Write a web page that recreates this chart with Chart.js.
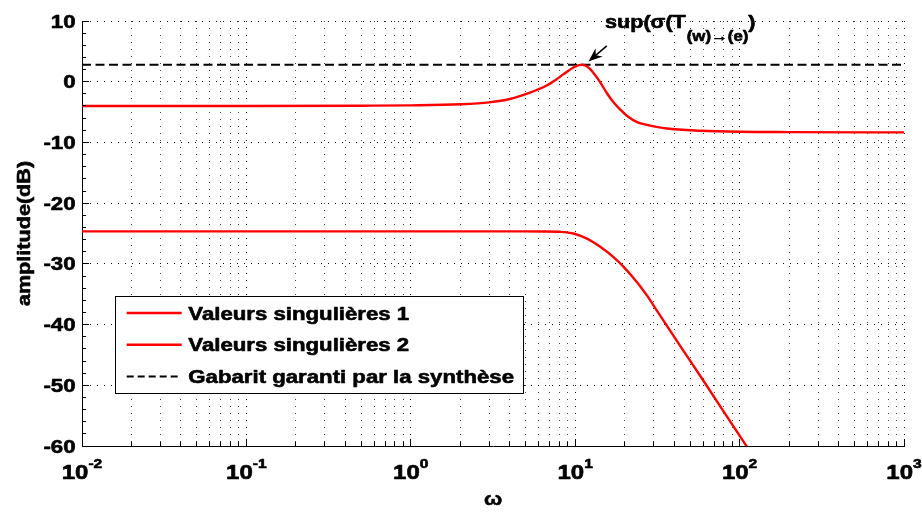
<!DOCTYPE html>
<html>
<head>
<meta charset="utf-8">
<title>Valeurs singulières</title>
<script src="https://cdn.jsdelivr.net/npm/chart.js@4.4.1/dist/chart.umd.min.js"></script>
<style>
  html, body { margin: 0; padding: 0; background: #fff; }
  #wrap { width: 922px; height: 512px; }
</style>
</head>
<body>
<div id="wrap"><canvas id="svChart" width="922" height="512"></canvas></div>
<script>
// pulsation (rad/s) and singular values (dB)
const omega1 = [0.01, 0.1, 0.5, 1, 2, 3, 4, 5.3, 6.7, 7.6, 8.5, 9.75, 10.5, 11, 11.6, 12.3, 13.2, 14.2, 15.6, 17.1, 18.8, 20.6, 24, 27.3, 36.1, 57.7, 100, 200, 1000];
const sigma1 = [-4.0, -4.0, -3.95, -3.9, -3.72, -3.4, -2.85, -1.8, -0.62, 0.3, 1.25, 2.35, 2.72, 2.8, 2.62, 2.1, 1.1, -0.1, -1.9, -3.4, -4.6, -5.6, -6.7, -7.1, -7.7, -8.07, -8.25, -8.3, -8.35];
const omega2 = [0.01, 1, 4, 6.5, 8.1, 9.75, 11.8, 14.2, 17.1, 19.7, 23.7, 27.3, 31.4, 43.5, 60.4, 111, 125];
const sigma2 = [-24.65, -24.65, -24.65, -24.66, -24.72, -25.0, -25.85, -27.2, -28.9, -30.5, -33.0, -35.2, -37.7, -43.5, -49.3, -60.15, -62.2];
const gabaritOmega = [0.01, 1000];
const gabaritDb = [2.8, 2.8];

const seriesLabels = ['Valeurs singulières 1', 'Valeurs singulières 2', 'Gabarit garanti par la synthèse'];
const xDecades = [-2, -1, 0, 1, 2, 3];
const yMajor = [10, 0, -10, -20, -30, -40, -50, -60];

const FONT = '"Liberation Sans", Arial, Helvetica, sans-serif';
const SX = 1.2; // wide helvetica look

function toPoints(xs, ys) {
  return xs.map((x, i) => ({ x: x, y: ys[i] }));
}

function isDecade(v) {
  const l = Math.log10(v);
  return Math.abs(l - Math.round(l)) < 1e-9;
}

// bold text, stretched a bit and slightly stroked so it reads heavier
function drawText(ctx, text, x, y, size, align) {
  ctx.font = 'bold ' + size + 'px ' + FONT;
  const w = ctx.measureText(text).width * SX;
  const left = align === 'center' ? x - w / 2 : align === 'right' ? x - w : x;
  ctx.save();
  ctx.translate(left, y);
  ctx.scale(SX, 1);
  ctx.textAlign = 'left';
  ctx.textBaseline = 'alphabetic';
  ctx.fillStyle = '#000';
  ctx.strokeStyle = '#000';
  ctx.lineWidth = 0.6;
  ctx.lineJoin = 'round';
  ctx.fillText(text, 0, 0);
  ctx.strokeText(text, 0, 0);
  ctx.restore();
  return w;
}

function crisp(p) {
  return Math.round(p - 0.5) + 0.5;
}

// inward ticks, labels, legend box and the sup annotation
const decor = {
  id: 'decor',
  afterDraw(chart) {
    const ctx = chart.ctx;
    const area = chart.chartArea;
    const xs = chart.scales.x;
    const ys = chart.scales.y;

    ctx.save();
    ctx.strokeStyle = '#000';
    ctx.fillStyle = '#000';
    ctx.lineWidth = 1;

    // tick marks pointing into the plot
    ctx.beginPath();
    xs.ticks.forEach(t => {
      const px = crisp(xs.getPixelForValue(t.value));
      const len = isDecade(t.value) ? 7 : 4;
      ctx.moveTo(px, area.bottom);
      ctx.lineTo(px, area.bottom - len);
    });
    ys.ticks.forEach(t => {
      const py = crisp(ys.getPixelForValue(t.value));
      const len = t.value % 10 === 0 ? 7 : 4;
      ctx.moveTo(area.left, py);
      ctx.lineTo(area.left + len, py);
    });
    ctx.stroke();

    // y tick labels
    yMajor.forEach(v => {
      const py = ys.getPixelForValue(v);
      drawText(ctx, String(v), area.left - 6.5, py + 6.6, 18.5, 'right');
    });

    // x tick labels 10^n
    xDecades.forEach(e => {
      const px = xs.getPixelForValue(Math.pow(10, e));
      ctx.font = 'bold 20px ' + FONT;
      const wb = ctx.measureText('10').width * SX;
      ctx.font = 'bold 13px ' + FONT;
      const we = ctx.measureText(String(e)).width * SX;
      const left = px - (wb + we) / 2;
      drawText(ctx, '10', left, 479, 20, 'left');
      drawText(ctx, String(e), left + wb, 468, 13, 'left');
    });

    // axis titles
    drawText(ctx, 'ω', (area.left + area.right) / 2, 505, 18, 'center');
    ctx.save();
    ctx.translate(29.6, (area.top + area.bottom) / 2);
    ctx.rotate(-Math.PI / 2);
    drawText(ctx, 'amplitude(dB)', 0, 0, 18, 'center');
    ctx.restore();

    // legend
    const lg = { x: 115.5, y: 296.5, w: 408, h: 97 };
    ctx.fillStyle = '#fff';
    ctx.fillRect(lg.x, lg.y, lg.w, lg.h);
    ctx.strokeStyle = '#000';
    ctx.lineWidth = 1;
    ctx.strokeRect(lg.x, lg.y, lg.w, lg.h);
    chart.data.datasets.forEach((ds, i) => {
      const ly = 313 + i * 31.7;
      ctx.save();
      ctx.strokeStyle = ds.borderColor;
      ctx.lineWidth = ds.borderWidth;
      ctx.setLineDash(ds.borderDash && ds.borderDash.length ? [7, 4] : []);
      ctx.beginPath();
      ctx.moveTo(126.7, ly);
      ctx.lineTo(181.7, ly);
      ctx.stroke();
      ctx.restore();
      drawText(ctx, ds.label, 188.3, ly + 6.5, 18.5, 'left');
    });

    // arrow onto the peak of the first singular value
    const iPk = sigma1.indexOf(Math.max(...sigma1));
    const pkX = xs.getPixelForValue(omega1[iPk]);
    const pkY = ys.getPixelForValue(sigma1[iPk]);
    const tipX = pkX + 6.5, tipY = pkY - 3.3;
    const nrm = Math.hypot(1, 0.85);
    const ux = 1 / nrm, uy = -0.85 / nrm;
    const nx = -uy, ny = ux;
    const head = 14, half = 5.5;
    ctx.fillStyle = '#000';
    ctx.beginPath();
    ctx.moveTo(tipX, tipY);
    ctx.lineTo(tipX + ux * head + nx * half, tipY + uy * head + ny * half);
    ctx.lineTo(tipX + ux * 9.5, tipY + uy * 9.5);
    ctx.lineTo(tipX + ux * head - nx * half, tipY + uy * head - ny * half);
    ctx.closePath();
    ctx.fill();
    ctx.strokeStyle = '#000';
    ctx.lineWidth = 1.5;
    ctx.beginPath();
    ctx.moveTo(tipX + ux * 9, tipY + uy * 9);
    ctx.lineTo(tipX + ux * 24, tipY + uy * 24);
    ctx.stroke();

    let tx = pkX + 23;
    const ty = pkY - 36.3;
    tx += drawText(ctx, 'sup(σ(T', tx, ty, 18, 'left');
    tx += drawText(ctx, '(w)→(e)', tx + 1, ty + 13, 14, 'left') + 1;
    drawText(ctx, ')', tx, ty, 18, 'left');

    ctx.restore();
  }
};

const ctx = document.getElementById('svChart').getContext('2d');
const svChart = new Chart(ctx, {
  type: 'line',
  data: {
    datasets: [
      {
        label: seriesLabels[0],
        data: toPoints(omega1, sigma1),
        borderColor: '#ff0000',
        borderWidth: 2.4,
        pointRadius: 0,
        cubicInterpolationMode: 'monotone',
        fill: false
      },
      {
        label: seriesLabels[1],
        data: toPoints(omega2, sigma2),
        borderColor: '#ff0000',
        borderWidth: 2.4,
        pointRadius: 0,
        cubicInterpolationMode: 'monotone',
        fill: false
      },
      {
        label: seriesLabels[2],
        data: toPoints(gabaritOmega, gabaritDb),
        borderColor: '#000000',
        borderWidth: 2,
        borderDash: [9, 4.5],
        pointRadius: 0,
        fill: false
      }
    ]
  },
  options: {
    responsive: false,
    animation: false,
    devicePixelRatio: 1,
    layout: { padding: { left: 0, top: 21, right: 18, bottom: 0 } },
    plugins: {
      legend: { display: false },
      tooltip: { enabled: false }
    },
    scales: {
      x: {
        type: 'logarithmic',
        min: 0.01,
        max: 1000,
        afterBuildTicks(scale) {
          const ticks = [];
          xDecades.forEach((e, i) => {
            const base = Math.pow(10, e);
            const last = i === xDecades.length - 1;
            for (let m = 1; m <= (last ? 1 : 9); m++) {
              ticks.push({ value: m * base });
            }
          });
          scale.ticks = ticks;
        },
        afterFit(scale) { scale.height = 66; },
        ticks: { display: false, autoSkip: false },
        grid: {
          drawTicks: false,
          lineWidth: 1,
          color: c => (c.tick && isDecade(c.tick.value)) ? '#111' : '#444'
        },
        border: { display: true, color: '#000', width: 1, dash: [1, 6] }
      },
      y: {
        type: 'linear',
        min: -60,
        max: 10,
        afterFit(scale) { scale.width = 82; },
        ticks: { display: false, stepSize: 2, autoSkip: false },
        grid: {
          drawTicks: false,
          lineWidth: 1,
          color: c => (c.tick && c.tick.value % 10 === 0) ? '#111' : 'rgba(0,0,0,0)'
        },
        border: { display: true, color: '#000', width: 1, dash: [1, 6] }
      }
    }
  },
  plugins: [decor]
});
</script>
</body>
</html>
